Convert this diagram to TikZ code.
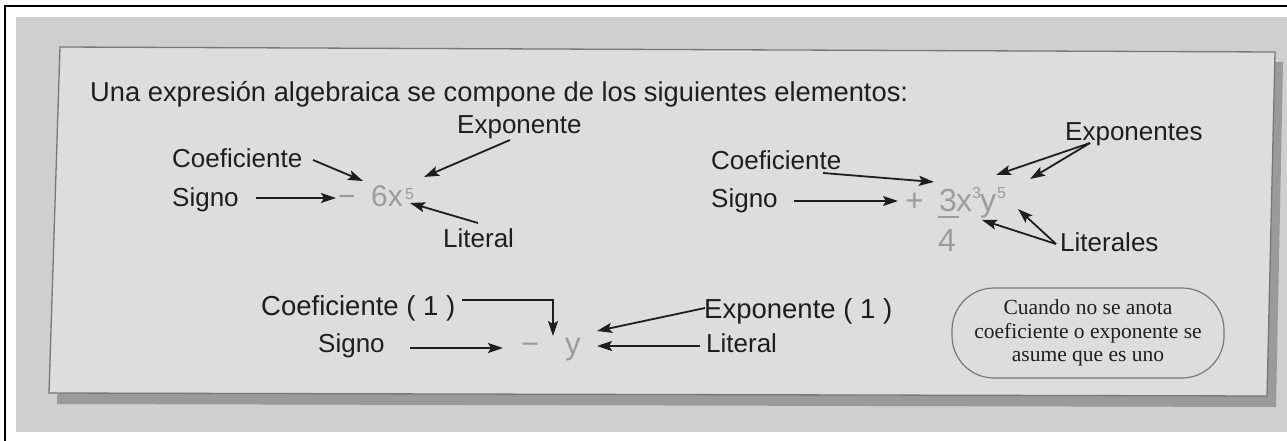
\documentclass[tikz,border=0pt]{standalone}
\usepackage{fontspec}
\setmainfont{Liberation Sans}
\newfontfamily\notefont{Liberation Serif}
\usetikzlibrary{arrows.meta}
\definecolor{photo}{HTML}{CFCFCF}
\definecolor{card}{HTML}{DDDDDD}
\definecolor{cardedge}{HTML}{777777}
\definecolor{shadowc}{HTML}{9A9A9A}
\definecolor{labelc}{HTML}{1E1E1E}
\definecolor{exprc}{HTML}{9C9C9C}
\begin{document}
\begin{tikzpicture}[x=1pt,y=-1pt,
  lbl/.style={inner sep=0pt, anchor=base west, text=labelc, font=\fontsize{26}{30}\selectfont},
  lblw/.style={lbl, font=\fontsize{27.5}{30}\selectfont},
  ttl/.style={inner sep=0pt, anchor=base west, text=labelc, font=\fontsize{27.3}{32}\selectfont},
  exprA/.style={inner sep=0pt, anchor=base west, text=exprc, font=\fontsize{30}{32}\selectfont},
  exprB/.style={inner sep=0pt, anchor=base west, text=exprc, font=\fontsize{32}{34}\selectfont},
  exprC/.style={inner sep=0pt, anchor=base west, text=exprc, font=\fontsize{31}{33}\selectfont},
  supA/.style={inner sep=0pt, anchor=base west, text=exprc, font=\fontsize{16}{18}\selectfont},
  arr/.style={draw=labelc, line width=1.8pt, -{Stealth[length=15pt,width=10pt,inset=3pt]}},
  notebox/.style={draw=cardedge, line width=1.2pt, rounded corners=42pt, minimum width=272pt,
     minimum height=90pt, align=center, text=labelc, inner sep=0pt,
     font=\notefont\fontsize{21.5}{23.5}\selectfont}]
\useasboundingbox (0,0) rectangle (1287,441);
\fill[white] (0,0) rectangle (1287,441);
% photo
\fill[photo] (16,17) rectangle (1287,432);
% card shadow and card
\fill[shadowc] (68,57) -- (1283,62) -- (1276,407) -- (57,404) -- cycle;
\filldraw[fill=card, draw=cardedge, line width=1.3pt] (60,47) -- (1275,52) -- (1267,396) -- (49,393) -- cycle;
% frame lines
\draw[black, line width=2pt] (5,441) -- (5,6) -- (1287,6);

% title
\node[ttl] (title) at (90,102) {Una expresión algebraica se compone de los siguientes elementos:};

% ---------- left expression ----------
\node[lbl] (expo1) at (457,134) {Exponente};
\node[lbl] (coef1) at (172,167) {Coeficiente};
\node[lbl] (signo1) at (172,206) {Signo};
\node[lbl] (lit1) at (443,247) {Literal};
\node[exprA] (minus1) at (338,206) {−};
\node[exprA] (sixx) at (371,206) {6x};
\node[supA] (five1) at (405,199) {5};
\coordinate (s1a) at (256,198); \coordinate (s1b) at (336,198);
\coordinate (c1a) at (313,160); \coordinate (c1b) at (363,181);
\coordinate (e1a) at (510,140); \coordinate (e1b) at (424,177);
\coordinate (l1a) at (478,223); \coordinate (l1b) at (410,203);
\draw[arr] (s1a) -- (s1b);
\draw[arr] (c1a) -- (c1b);
\draw[arr] (e1a) -- (e1b);
\draw[arr] (l1a) -- (l1b);

% ---------- right expression ----------
\node[lbl] (expo2) at (1065,140) {Exponentes};
\node[lbl] (coef2) at (711,169) {Coeficiente};
\node[lbl] (signo2) at (711,207) {Signo};
\node[lbl] (lits2) at (1060,251) {Literales};
\node[exprB] (plus2) at (905,211) {+};
\node[exprB] (three2) at (939,211) {3};
\node[exprB] (x2) at (956,211) {x};
\node[supA] (sup3) at (972,198) {3};
\node[exprB] (y2) at (980,211) {y};
\node[supA] (sup5) at (997,198) {5};
\draw[exprc, line width=2pt] (938,217) -- (959,217);
\node[exprB] (four2) at (938,251) {4};
\coordinate (s2a) at (794,201); \coordinate (s2b) at (898,201);
\coordinate (c2a) at (823,173); \coordinate (c2b) at (934,182);
\coordinate (e2a) at (1090,143); \coordinate (e2b) at (996,175); \coordinate (e2c) at (1030,179);
\coordinate (l2a) at (1056,244); \coordinate (l2b) at (982,220); \coordinate (l2c) at (1018,209);
\draw[arr] (s2a) -- (s2b);
\draw[arr] (c2a) -- (c2b);
\draw[arr] (e2a) -- (e2b);
\draw[arr] (e2a) -- (e2c);
\draw[arr] (l2a) -- (l2b);
\draw[arr] (l2a) -- (l2c);

% ---------- bottom expression ----------
\node[lblw] (coef3) at (261,315) {Coeficiente ( 1 )};
\node[lbl] (signo3) at (318,352) {Signo};
\node[lblw] (expo3) at (704,318) {Exponente ( 1 )};
\node[lbl] (lit3) at (706,352) {Literal};
\node[exprC] (minus3) at (521,354) {−};
\node[exprC] (y3) at (565,354) {y};
\coordinate (c3a) at (462,300); \coordinate (c3b) at (553,336);
\coordinate (s3a) at (410,348); \coordinate (s3b) at (503,348);
\coordinate (e3a) at (705,308); \coordinate (e3b) at (597,331);
\coordinate (l3a) at (700,346); \coordinate (l3b) at (597,346);
\draw[arr] (c3a) -| (c3b);
\draw[arr] (s3a) -- (s3b);
\draw[arr] (e3a) -- (e3b);
\draw[arr] (l3a) -- (l3b);

% note
\node[notebox] (note) at (1088,333) {Cuando no se anota\\coeficiente o exponente se\\asume que es uno};
\end{tikzpicture}
\end{document}
